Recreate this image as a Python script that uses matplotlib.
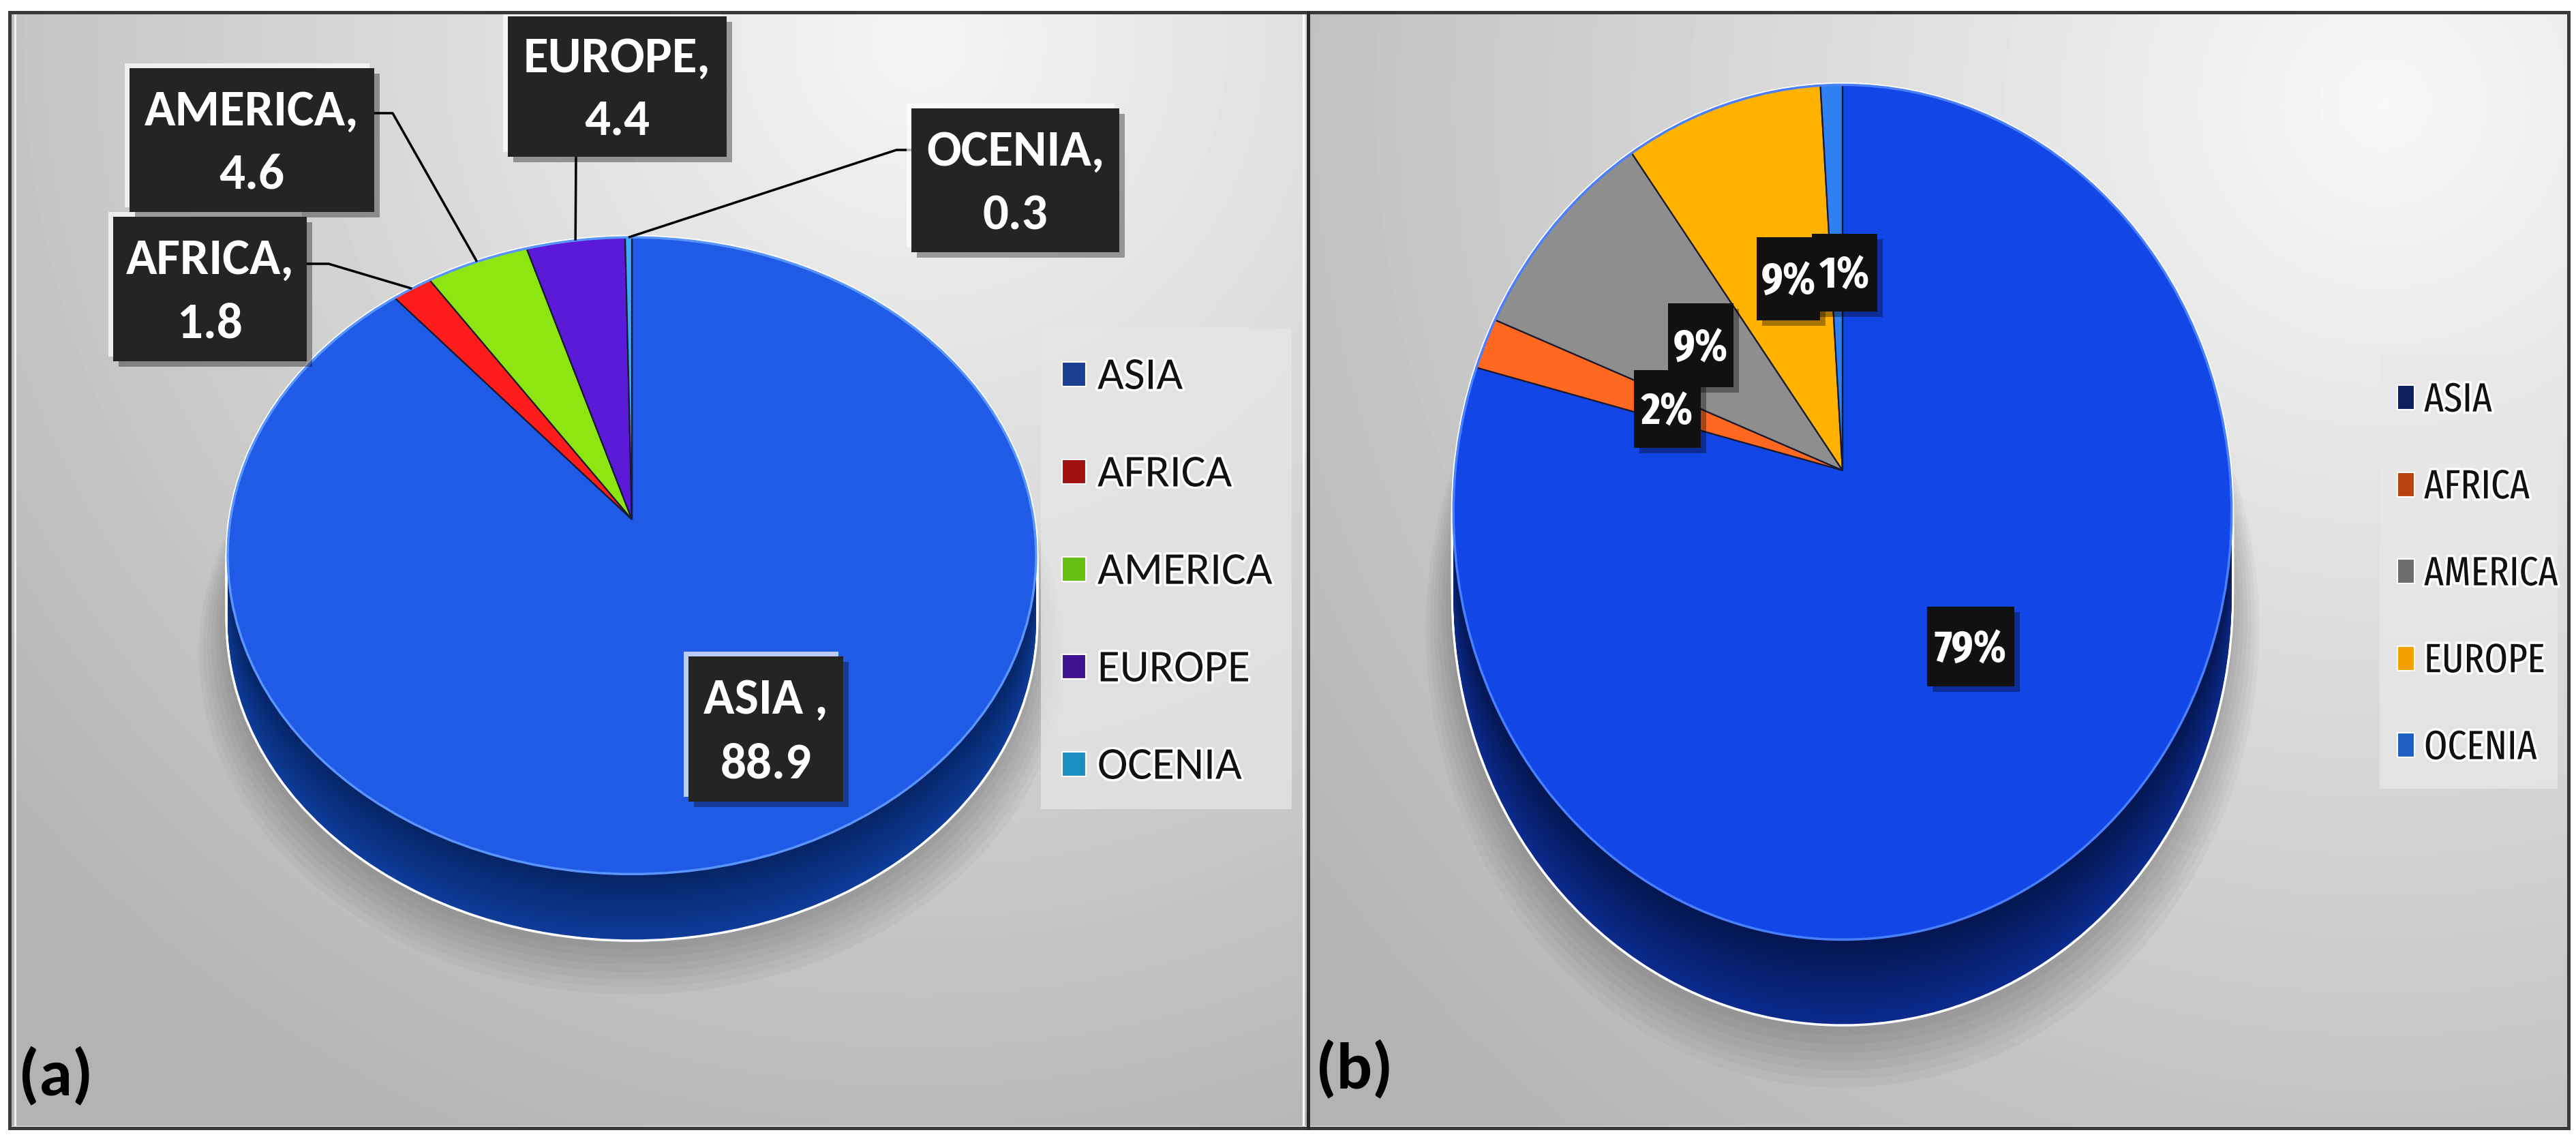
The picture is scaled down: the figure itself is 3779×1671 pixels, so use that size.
import numpy as np
import matplotlib
matplotlib.use("Agg")
import matplotlib.pyplot as plt
import matplotlib.colors as mcolors
import matplotlib.patches as mpatches
import matplotlib.patheffects as pe
import matplotlib.transforms as mtransforms
from matplotlib import font_manager

# ---- data -------------------------------------------------------------
regions = ["ASIA", "AFRICA", "AMERICA", "EUROPE", "OCENIA"]
values_a = [88.9, 1.8, 4.6, 4.4, 0.3]
shares_b = [79, 2, 9, 9, 1]

# ---- styles -----------------------------------------------------------
face_a = ["#1f5be6", "#ff1c1c", "#8de612", "#5b19d8", "#3ea8ff"]
key_a = ["#1d3f90", "#a01212", "#66c013", "#3e1290", "#1b8fc0"]
face_b = ["#1246e6", "#ff6820", "#8e8e8e", "#ffb200", "#2f80f2"]
key_b = ["#0d1f5e", "#b94412", "#6d6d6d", "#f2a100", "#1f5fc4"]

W, H = 3780, 1671
names = {f.name for f in font_manager.fontManager.ttflist}
CAL = "Carlito" if "Carlito" in names else "Lato"
CAL_CAP = 0.644 if CAL == "Carlito" else 0.72
COND = "Fira Sans Extra Condensed" if "Fira Sans Extra Condensed" in names else CAL
COND_CAP = 0.689 if COND == "Fira Sans Extra Condensed" else CAL_CAP


class Tilt(mtransforms.Transform):
    """simple perspective so the far half of the disc looks smaller"""
    input_dims = output_dims = 2
    has_inverse = False

    def __init__(self, k):
        super().__init__()
        self.k = k

    def transform_non_affine(self, values):
        values = np.asarray(values, float)
        w = 1 + self.k * values[:, 1]
        return values / w[:, None]


fig = plt.figure(figsize=(W / 100, H / 100), dpi=100)
ax = fig.add_axes([0, 0, 1, 1])


def pt(px):
    return px * 72 / 100


def background(x0, x1, y0, y1, cx, cy, radius, light, dark):
    xs = np.linspace(x0, x1, 300)
    ys = np.linspace(y0, y1, 300)
    X, Y = np.meshgrid(xs, ys)
    r = np.clip(np.hypot(X - cx, Y - cy) / radius, 0, 1)
    g = light - (light - dark) * r
    ax.imshow(g, extent=(x0, x1, y1, y0), cmap="gray", vmin=0, vmax=1,
              aspect="auto", interpolation="bilinear", zorder=0)


def blend(c1, c2, f):
    a, b = np.array(mcolors.to_rgb(c1)), np.array(mcolors.to_rgb(c2))
    return tuple(a + (b - a) * f)


def pie3d(values, faces, side_near, side_far, rim, cx, cy, a, b, k, depth):
    tilt = Tilt(k)

    def place(dy):
        return tilt + mtransforms.Affine2D().scale(a, -b).translate(cx, cy + dy)

    # soft shadow under the disc
    for i in range(8):
        ax.add_patch(mpatches.Circle((0, 0), 1.0 + 0.01 * i, transform=place(depth + 4 + 5 * i) + ax.transData,
                                     fc="k", alpha=0.03, lw=0, zorder=2))
    # white halo round the silhouette
    for t in np.linspace(0, depth, 25):
        ax.add_patch(mpatches.Circle((0, 0), 1.0, transform=place(t) + ax.transData,
                                     fc="white", ec="white", lw=5, zorder=3))
    # side wall
    steps = int(depth / 2)
    for t in np.linspace(depth, 0, steps):
        f = t / depth
        cols = [blend(side_near, side_far, f)] + [blend(c, "black", 0.5) for c in faces[1:]]
        wedges, _ = ax.pie(values, colors=cols, startangle=90, counterclock=False,
                           wedgeprops=dict(lw=0))
        for w in wedges:
            w.set_transform(place(t) + ax.transData)
            w.set_zorder(4)
    # top face
    wedges, _ = ax.pie(values, colors=faces, startangle=90, counterclock=False,
                       wedgeprops=dict(lw=1.6, ec="#1a1a30"))
    for w in wedges:
        w.set_transform(place(0) + ax.transData)
        w.set_zorder(5)
    ax.add_patch(mpatches.Circle((0, 0), 1.0, transform=place(0) + ax.transData,
                                 fc="none", ec=rim, lw=2.5, zorder=6))
    rims = {}
    for name, w in zip(regions, wedges):
        mid = np.deg2rad((w.theta1 + w.theta2) / 2)
        rims[name] = place(0).transform([np.cos(mid), np.sin(mid)])
    return rims


def label_box(x0, y0, x1, y1, fc, glow):
    wd, ht = x1 - x0, y1 - y0
    if glow:
        ax.add_patch(mpatches.Rectangle((x0 - 7, y0 - 7), wd, ht, fc="white", alpha=0.7, lw=0, zorder=8))
    ax.add_patch(mpatches.Rectangle((x0 + 8, y0 + 8), wd, ht, fc="black", alpha=0.35, lw=0, zorder=8))
    ax.add_patch(mpatches.Rectangle((x0, y0), wd, ht, fc=fc, lw=0, zorder=8.5))


def cap_text(x, yc, s, size_px, family, cap, weight="normal", color="white", ha="center", z=9, effects=None):
    ax.text(x, yc + 0.5 * cap * size_px, s, fontsize=pt(size_px), family=family, weight=weight,
            color=color, ha=ha, va="baseline", zorder=z, path_effects=effects)


# ---- frame and backgrounds ---------------------------------------------
background(17, 1917, 21, 1652, 1350, 60, 1800, 0.96, 0.70)
background(1922, 3766, 21, 1652, 3500, 150, 2000, 0.97, 0.70)
ax.add_patch(mpatches.Rectangle((14, 18), 3754, 1637, fill=False, ec="#3a3a3a", lw=pt(5), zorder=20))
ax.plot([1919, 1919], [18, 1655], color="#2a2a2a", lw=pt(5), zorder=20)
ax.plot([1912, 1912], [22, 1650], color="white", lw=pt(3), zorder=20)
ax.plot([22, 22], [22, 1650], color="white", lw=pt(3), alpha=0.8, zorder=20)

# ---- panel (a) ---------------------------------------------------------
rims_a = pie3d(values_a, face_a, "#062466", "#0e3c98", "#5a95ff",
               cx=927, cy=762, a=589, b=461, k=0.114, depth=96)

boxes_a = {"ASIA": (1010, 963, 1237, 1176), "AFRICA": (166, 318, 450, 530),
           "AMERICA": (190, 100, 549, 311), "EUROPE": (745, 24, 1066, 230),
           "OCENIA": (1337, 159, 1642, 370)}
leaders_a = {"AFRICA": [(450, 387), (482, 387)], "AMERICA": [(549, 166), (576, 166)],
             "EUROPE": [(845, 230)], "OCENIA": [(1337, 220), (1315, 220)]}

for name, pts in leaders_a.items():
    xs = [p[0] for p in pts] + [rims_a[name][0]]
    ys = [p[1] for p in pts] + [rims_a[name][1]]
    ax.plot(xs, ys, color="black", lw=pt(3.5), zorder=7, solid_capstyle="butt")

for name, val in zip(regions, values_a):
    x0, y0, x1, y1 = boxes_a[name]
    label_box(x0, y0, x1, y1, "#242424", glow=True)
    head = "ASIA ," if name == "ASIA" else name + ","
    cap_text((x0 + x1) / 2, y0 + 0.28 * (y1 - y0), head, 75, CAL, CAL_CAP, "bold")
    cap_text((x0 + x1) / 2, y0 + 0.725 * (y1 - y0), f"{val}", 75, CAL, CAL_CAP, "bold")

ax.add_patch(mpatches.Rectangle((1527, 481), 368, 706, fc="#e6e6e6", alpha=0.75, lw=0, zorder=7))
for i, (name, c) in enumerate(zip(regions, key_a)):
    yc = 549 + 143 * i
    ax.add_patch(mpatches.Rectangle((1558, yc - 18), 35, 36, fc=c, ec="white", lw=1.5, zorder=8))
    cap_text(1610, yc, name, 67, CAL, CAL_CAP, color="#111111", ha="left",
             effects=[pe.withStroke(linewidth=5, foreground="white")])

ax.text(27, 1607, "(a)", fontsize=pt(98), family=CAL, weight="bold", color="black",
        ha="left", va="baseline", zorder=9)

# ---- panel (b) ---------------------------------------------------------
rims_b = pie3d(shares_b, face_b, "#041650", "#0b2a8c", "#4a80ff",
               cx=2703, cy=690, a=568, b=621, k=0.098, depth=124)

boxes_b = {"ASIA": (2827, 890, 2955, 1007), "AMERICA": (2447, 445, 2543, 568),
           "AFRICA": (2397, 543, 2495, 657), "EUROPE": (2577, 348, 2670, 470),
           "OCENIA": (2658, 343, 2754, 457)}

for name in ["ASIA", "AMERICA", "AFRICA", "EUROPE", "OCENIA"]:
    share = shares_b[regions.index(name)]
    x0, y0, x1, y1 = boxes_b[name]
    label_box(x0, y0, x1, y1, "#111111", glow=False)
    cap_text((x0 + x1) / 2, (y0 + y1) / 2, f"{share}%", 66, COND, COND_CAP, "bold")

ax.add_patch(mpatches.Rectangle((3491, 519), 261, 638, fc="#e8e8e8", alpha=0.75, lw=0, zorder=7))
for i, (name, c) in enumerate(zip(regions, key_b)):
    yc = 583 + 127.5 * i
    ax.add_patch(mpatches.Rectangle((3517, yc - 18), 25, 36, fc=c, ec="white", lw=1.5, zorder=8))
    cap_text(3556, yc, name, 60, COND, COND_CAP, color="#111111", ha="left",
             effects=[pe.withStroke(linewidth=5, foreground="white")])

ax.text(1930, 1597, "(b)", fontsize=pt(98), family=CAL, weight="bold", color="black",
        ha="left", va="baseline", zorder=9)

ax.set_xlim(0, W)
ax.set_ylim(H, 0)
ax.set_aspect("auto")
ax.axis("off")
fig.savefig("out.png", dpi=100, facecolor="white")
